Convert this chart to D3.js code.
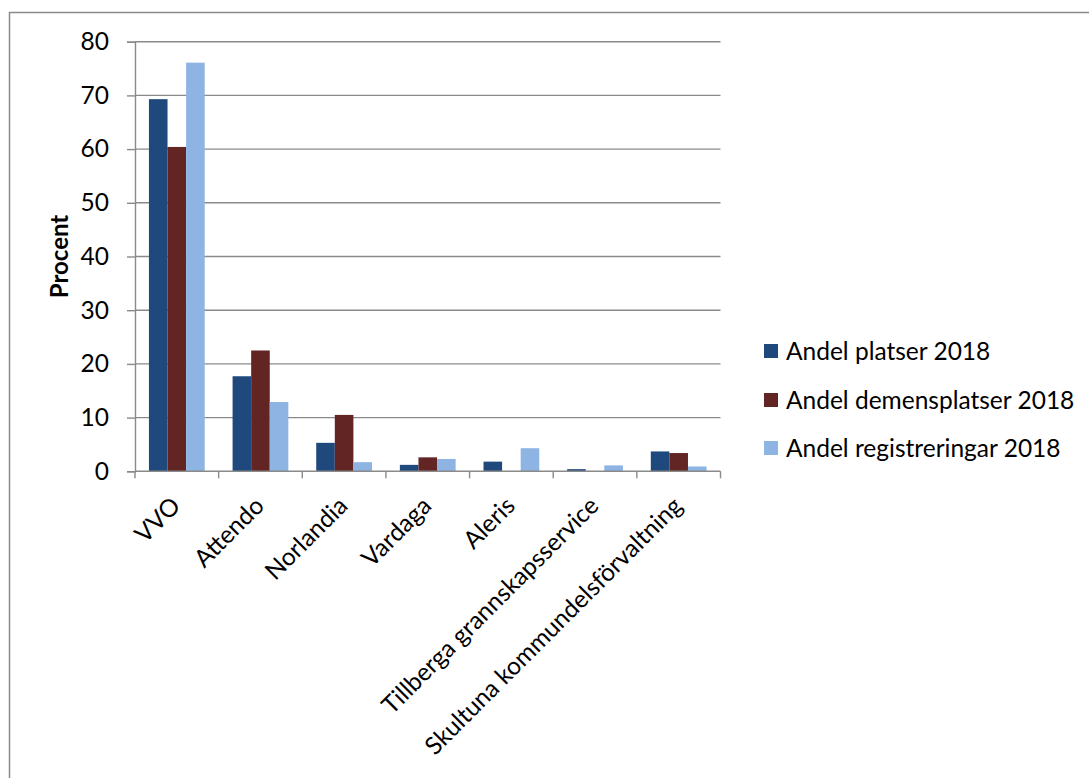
<!DOCTYPE html>
<html>
<head>
<meta charset="utf-8">
<script src="https://cdn.jsdelivr.net/npm/d3@7"></script>
<style>
  html, body { margin: 0; padding: 0; background: #fff; }
  svg { display: block; }
  text { font-family: Lato, "Open Sans", sans-serif; fill: #000; }
</style>
</head>
<body>
<svg id="chart" width="1089" height="778"></svg>
<script>
const categories = ["VVO", "Attendo", "Norlandia", "Vardaga", "Aleris", "Tillberga grannskapsservice", "Skultuna kommundelsförvaltning"];
const seriesNames = ["Andel platser 2018", "Andel demensplatser 2018", "Andel registreringar 2018"];
const platser = [69.3, 17.7, 5.3, 1.2, 1.8, 0.4, 3.7];
const demensplatser = [60.4, 22.5, 10.5, 2.6, 0, 0, 3.4];
const registreringar = [76.1, 12.9, 1.7, 2.3, 4.3, 1.1, 0.9];
const yTicks = [0, 10, 20, 30, 40, 50, 60, 70, 80];
const colors = ["#1F497D", "#632523", "#8EB4E3"];
const yTitle = "Procent";

(function () {
const seriesValues = [platser, demensplatser, registreringar];

const svg = d3.select("#chart");
const pLeft = 135, pRight = 720.5, pTop = 41.7, pBottom = 471.3;
const gridColor = "#8a8a8a";
const fontSize = 24.5;

// outer border
svg.append("rect")
  .attr("x", 9.5).attr("y", 12.5)
  .attr("width", 1200).attr("height", 900)
  .attr("fill", "none").attr("stroke", gridColor).attr("stroke-width", 1.5);

const y = d3.scaleLinear().domain([0, 80]).range([pBottom, pTop]);
const x = d3.scaleBand().domain(categories).range([pLeft, pRight]).padding(0);
const bw = x.bandwidth();
const w = bw / 4.5;
const x1 = d3.scaleBand().domain(seriesNames).range([0.75 * w, bw - 0.75 * w]).padding(0);

// gridlines
svg.append("g").selectAll("line").data(yTicks.filter(d => d > 0)).join("line")
  .attr("x1", pLeft).attr("x2", pRight)
  .attr("y1", d => y(d)).attr("y2", d => y(d))
  .attr("stroke", gridColor).attr("stroke-width", 1.4);

// y axis
const yAxis = svg.append("g").attr("transform", `translate(${pLeft},0)`)
  .call(d3.axisLeft(y).tickValues(yTicks).tickSize(8).tickPadding(18).tickFormat(d3.format("d")));
yAxis.select(".domain").attr("stroke", gridColor).attr("stroke-width", 1.4);
yAxis.selectAll(".tick line").attr("stroke", gridColor).attr("stroke-width", 1.4);
yAxis.selectAll(".tick text").attr("font-size", fontSize).attr("font-family", "Lato, sans-serif").attr("fill", "#000");

// bars
const g = svg.append("g");
seriesNames.forEach((s, si) => {
  g.append("g").selectAll("rect").data(categories).join("rect")
    .attr("x", c => x(c) + x1(s))
    .attr("width", x1.bandwidth())
    .attr("y", (c, i) => y(seriesValues[si][i]))
    .attr("height", (c, i) => y(0) - y(seriesValues[si][i]))
    .attr("fill", colors[si]);
});

// x axis
const xAxis = svg.append("g").attr("transform", `translate(0,${pBottom})`);
xAxis.append("line").attr("x1", pLeft).attr("x2", pRight).attr("y1", 0).attr("y2", 0)
  .attr("stroke", gridColor).attr("stroke-width", 1.4);
const boundaries = categories.map(c => x(c)).concat([pRight]);
xAxis.selectAll("line.tk").data(boundaries).join("line").attr("class", "tk")
  .attr("x1", d => d).attr("x2", d => d).attr("y1", 0).attr("y2", 7)
  .attr("stroke", gridColor).attr("stroke-width", 1.4);

svg.append("g").selectAll("text").data(categories).join("text")
  .attr("transform", c => `translate(${x(c) + bw / 2 - 1},${pBottom + 30}) rotate(-45)`)
  .attr("text-anchor", "end")
  .attr("dy", "0.35em")
  .attr("font-size", fontSize)
  .text(c => c);

// y title
svg.append("text")
  .attr("transform", `translate(60,${(pTop + pBottom) / 2}) rotate(-90)`)
  .attr("text-anchor", "middle")
  .attr("dy", "0.35em")
  .attr("font-size", 24)
  .attr("font-weight", "bold")
  .text(yTitle);

// legend
const legendY = [351, 400, 448];
const lg = svg.append("g");
seriesNames.forEach((s, i) => {
  lg.append("rect").attr("x", 764).attr("y", legendY[i] - 7).attr("width", 14).attr("height", 14).attr("fill", colors[i]);
  lg.append("text").attr("x", 786).attr("y", legendY[i]).attr("dy", "0.35em").attr("font-size", fontSize).text(s);
});
})();
</script>
</body>
</html>
